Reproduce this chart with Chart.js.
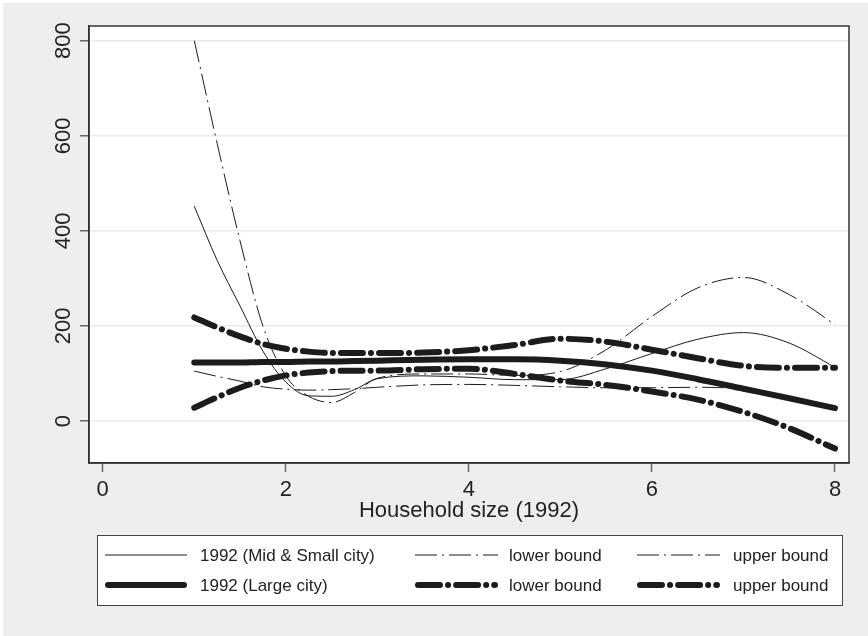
<!DOCTYPE html>
<html>
<head>
<meta charset="utf-8">
<script src="https://cdn.jsdelivr.net/npm/chart.js@4.4.0/dist/chart.umd.min.js"></script>
<style>
    html, body { margin: 0; padding: 0; background: #ffffff; }
    #wrap { width: 868px; height: 636px; }
</style>
</head>
<body>
<div id="wrap"><canvas id="chart" width="868" height="636"></canvas></div>
<script>
// Household size grid (x values of the smoothed curves)
var householdSize = [1, 1.25, 1.5, 1.75, 2, 2.25, 2.5, 2.75, 3, 3.5, 4, 4.5, 5, 5.5, 6, 6.5, 7, 7.5, 8];

// Mid & Small city
var midSmallEst   = [452, 338, 242, 147, 82, 53, 52, 66, 89, 95, 92, 87, 87, 110, 142, 172, 186, 164, 113];
var midSmallLower = [105, 94, 84, 72, 67, 65, 66, 68, 71, 76, 77, 75, 72, 70, 70, 71, 69, null, null];
var midSmallUpper = [800, 584, 379, 200, 95, 52, 39, 60, 90, 99, 99, 96, 104, 150, 220, 280, 302, 266, 203];

// Large city
var largeEst   = [123, 123, 123, 124, 124, 125, 125, 126, 127, 129, 130, 130, 127, 119, 106, 88, 68, 48, 27];
var largeLower = [28, 50, 70, 85, 96, 102, 105, 106, 106, 109, 110, 99, 85, 76, 62, 45, 19, -15, -58];
var largeUpper = [218, 197, 178, 162, 152, 146, 143, 143, 143, 144, 149, 160, 173, 167, 150, 132, 116, 112, 112];

// Axis ticks
var xTicks = [0, 2, 4, 6, 8];
var yTicks = [0, 200, 400, 600, 800];

var legendLabels = [
    '1992 (Mid & Small city)', 'lower bound', 'upper bound',
    '1992 (Large city)', 'lower bound', 'upper bound'
];

var FONT = '"Liberation Sans", Arial, Helvetica, sans-serif';
var INK = '#1c1c1c';

function toPoints(values) {
    return householdSize.map(function(x, i) {
        return { x: x, y: values[i] };
    });
}

var thinSolid = { borderWidth: 1, borderDash: [], borderCapStyle: 'butt' };
var thinDashDot = { borderWidth: 1, borderDash: [22, 5, 2, 5], borderCapStyle: 'butt' };
var thickSolid = { borderWidth: 6, borderDash: [], borderCapStyle: 'round' };
var thickDashDot = { borderWidth: 6, borderDash: [22, 8, 0.1, 8], borderCapStyle: 'round' };

function makeDataset(label, values, style) {
    return {
        label: label,
        data: toPoints(values),
        borderColor: INK,
        borderWidth: style.borderWidth,
        borderDash: style.borderDash,
        borderCapStyle: style.borderCapStyle,
        borderJoinStyle: 'round',
        pointRadius: 0,
        fill: false,
        cubicInterpolationMode: 'monotone',
        spanGaps: false,
        clip: 0
    };
}

// Background, plot region and frame
var backgroundPlugin = {
    id: 'stataBackground',
    beforeDraw: function(chart) {
        var ctx = chart.ctx;
        var a = chart.chartArea;
        ctx.save();
        ctx.fillStyle = '#ffffff';
        ctx.fillRect(0, 0, chart.width, chart.height);
        ctx.fillStyle = '#eeeeee';
        ctx.fillRect(3, 3, chart.width - 3, chart.height - 3);
        ctx.fillStyle = '#ffffff';
        ctx.fillRect(a.left, a.top, a.right - a.left, a.bottom - a.top);
        ctx.restore();
    },
    afterDraw: function(chart) {
        var ctx = chart.ctx;
        var a = chart.chartArea;
        ctx.save();
        ctx.strokeStyle = '#333333';
        ctx.lineWidth = 1.5;
        ctx.strokeRect(a.left, a.top, a.right - a.left, a.bottom - a.top);
        ctx.restore();
    }
};

// Legend box: 3 columns x 2 rows
var legendPlugin = {
    id: 'gridLegend',
    afterDraw: function(chart) {
        var ctx = chart.ctx;
        var box = { left: 97, top: 535, right: 842, bottom: 605 };
        var sampleX = [[105, 187], [415, 498], [637, 720]];
        var textX = [200, 509, 733];
        var rowY = [555, 585];

        ctx.save();
        ctx.fillStyle = '#ffffff';
        ctx.fillRect(box.left, box.top, box.right - box.left, box.bottom - box.top);
        ctx.strokeStyle = '#444444';
        ctx.lineWidth = 1;
        ctx.strokeRect(box.left + 0.5, box.top + 0.5, box.right - box.left, box.bottom - box.top);

        chart.data.datasets.forEach(function(ds, i) {
            var col = i % 3;
            var row = Math.floor(i / 3);
            var y = rowY[row];
            ctx.save();
            ctx.strokeStyle = ds.borderColor;
            ctx.lineWidth = ds.borderWidth;
            ctx.lineCap = ds.borderCapStyle;
            ctx.setLineDash(ds.borderDash);
            ctx.beginPath();
            var inset = ds.borderCapStyle === 'round' ? ds.borderWidth / 2 : 0;
            ctx.moveTo(sampleX[col][0] + inset, y);
            ctx.lineTo(sampleX[col][1] - inset, y);
            ctx.stroke();
            ctx.restore();

            ctx.fillStyle = '#222222';
            ctx.font = '17px ' + FONT;
            ctx.textAlign = 'left';
            ctx.textBaseline = 'middle';
            ctx.fillText(legendLabels[i], textX[col], y + 1);
        });
        ctx.restore();
    }
};

var ctx = document.getElementById('chart').getContext('2d');
var chart = new Chart(ctx, {
    type: 'line',
    data: {
        datasets: [
            makeDataset(legendLabels[0], midSmallEst, thinSolid),
            makeDataset(legendLabels[1], midSmallLower, thinDashDot),
            makeDataset(legendLabels[2], midSmallUpper, thinDashDot),
            makeDataset(legendLabels[3], largeEst, thickSolid),
            makeDataset(legendLabels[4], largeLower, thickDashDot),
            makeDataset(legendLabels[5], largeUpper, thickDashDot)
        ]
    },
    options: {
        responsive: false,
        animation: false,
        devicePixelRatio: 1,
        layout: {
            padding: { left: 0, top: 26, right: 19, bottom: 110 }
        },
        plugins: {
            legend: { display: false },
            tooltip: { enabled: false },
            title: { display: false }
        },
        scales: {
            x: {
                type: 'linear',
                min: -0.15,
                max: 8.153,
                afterBuildTicks: function(scale) {
                    scale.ticks = xTicks.map(function(v) { return { value: v }; });
                },
                afterFit: function(scale) {
                    scale.height = 63;
                },
                grid: {
                    drawOnChartArea: false,
                    drawTicks: true,
                    tickLength: 9,
                    tickColor: '#666666',
                    tickWidth: 1.5
                },
                border: { display: true, color: '#333333', width: 1.5 },
                ticks: {
                    color: '#222222',
                    font: { family: FONT, size: 22 },
                    padding: 5,
                    maxRotation: 0,
                    autoSkip: false
                },
                title: {
                    display: true,
                    text: 'Household size (1992)',
                    color: '#222222',
                    font: { family: FONT, size: 22 },
                    padding: { top: 0, bottom: 2 }
                }
            },
            y: {
                type: 'linear',
                min: -88.3,
                max: 830.9,
                afterBuildTicks: function(scale) {
                    scale.ticks = yTicks.map(function(v) { return { value: v }; });
                },
                afterFit: function(scale) {
                    scale.width = 89;
                },
                grid: {
                    color: '#ebebeb',
                    lineWidth: 1.5,
                    drawTicks: true,
                    tickLength: 9,
                    tickColor: '#666666',
                    tickWidth: 1.5
                },
                border: { display: true, color: '#333333', width: 1.5 },
                ticks: {
                    color: '#222222',
                    font: { family: FONT, size: 22 },
                    padding: -2,
                    minRotation: 90,
                    maxRotation: 90,
                    crossAlign: 'center',
                    autoSkip: false
                }
            }
        }
    },
    plugins: [backgroundPlugin, legendPlugin]
});
</script>
</body>
</html>
